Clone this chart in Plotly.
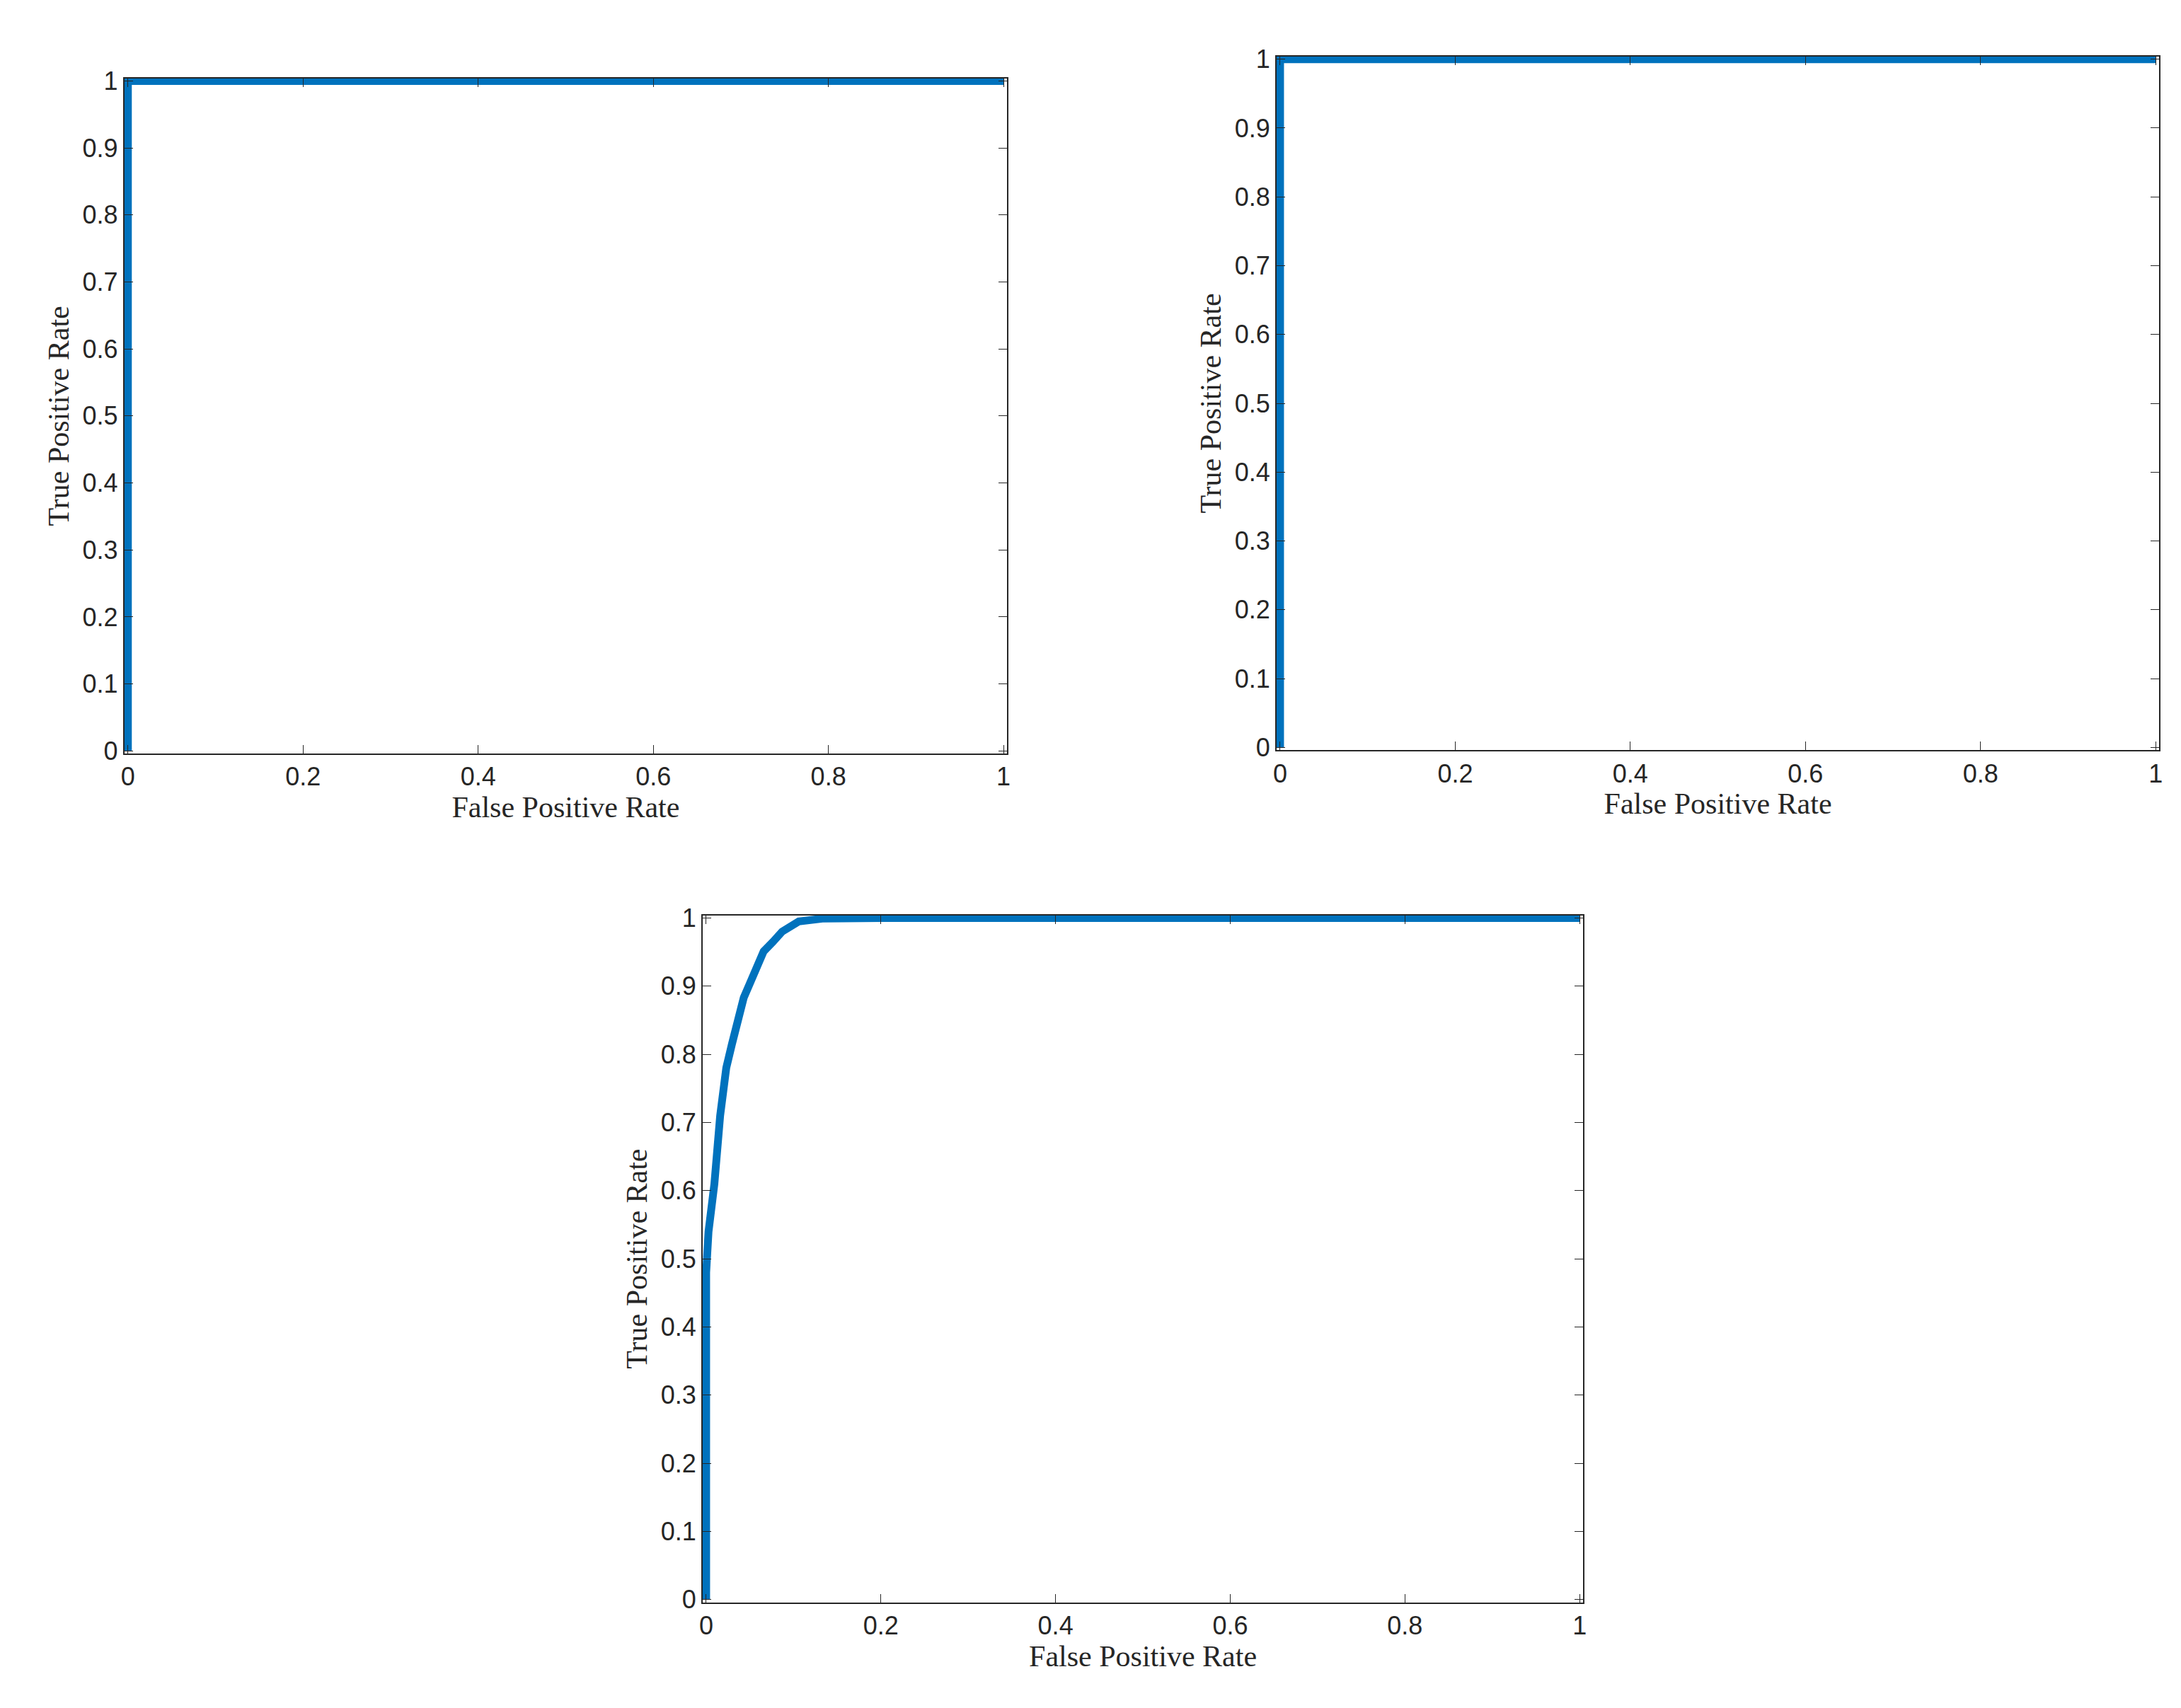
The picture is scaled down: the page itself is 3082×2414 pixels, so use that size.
import plotly.graph_objects as go

fpr_a = [0, 0, 1]
tpr_a = [0, 1, 1]
fpr_b = [0, 0, 1]
tpr_b = [0, 1, 1]
fpr_c = [0, 0, 0.0027, 0.0094, 0.016, 0.023, 0.0295, 0.036, 0.043, 0.0497, 0.060, 0.0658, 0.0765, 0.087, 0.106, 0.133, 0.2, 1]
tpr_c = [0, 0.48, 0.54, 0.61, 0.71, 0.78, 0.815, 0.85, 0.883, 0.903, 0.93, 0.951, 0.965, 0.98, 0.995, 0.999, 1, 1]
ticks = [0, 0.1, 0.2, 0.3, 0.4, 0.5, 0.6, 0.7, 0.8, 0.9, 1]
xticks = [0, 0.2, 0.4, 0.6, 0.8, 1]

fig = go.Figure()
color = "#0072BD"
domains = [
    ([0.053, 0.459], [0.563, 0.964]),
    ([0.583, 0.989], [0.565, 0.977]),
    ([0.319, 0.724], [0.059, 0.467]),
]
data = [(fpr_a, tpr_a), (fpr_b, tpr_b), (fpr_c, tpr_c)]
pad = 0.004
for i, ((xs, ys), (dx, dy)) in enumerate(zip(data, domains), start=1):
    sfx = "" if i == 1 else str(i)
    fig.add_trace(go.Scatter(x=xs, y=ys, mode="lines", line=dict(color=color, width=11),
                             xaxis="x" + sfx, yaxis="y" + sfx, showlegend=False))
    common = dict(showgrid=False, zeroline=False, showline=True, linecolor="#262626", linewidth=2,
                  mirror="ticks", ticks="inside", ticklen=12, tickcolor="#262626",
                  tickfont=dict(family="Liberation Sans", size=36, color="#262626"))
    fig.layout["xaxis" + sfx] = dict(domain=dx, anchor="y" + sfx, range=[-pad, 1 + pad],
                                     tickvals=xticks, ticktext=[f"{t:g}" for t in xticks],
                                     title=dict(text="False Positive Rate", standoff=4,
                                                font=dict(family="Liberation Serif", size=42, color="#262626")),
                                     **common)
    fig.layout["yaxis" + sfx] = dict(domain=dy, anchor="x" + sfx, range=[-pad, 1 + pad],
                                     tickvals=ticks, ticktext=[f"{t:g}" for t in ticks],
                                     title=dict(text="True Positive Rate", standoff=6,
                                                font=dict(family="Liberation Serif", size=42, color="#262626")),
                                     **common)

fig.update_layout(width=3082, height=2414, margin=dict(l=0, r=0, t=0, b=0),
                  paper_bgcolor="white", plot_bgcolor="white")
fig.write_html("out.html")
